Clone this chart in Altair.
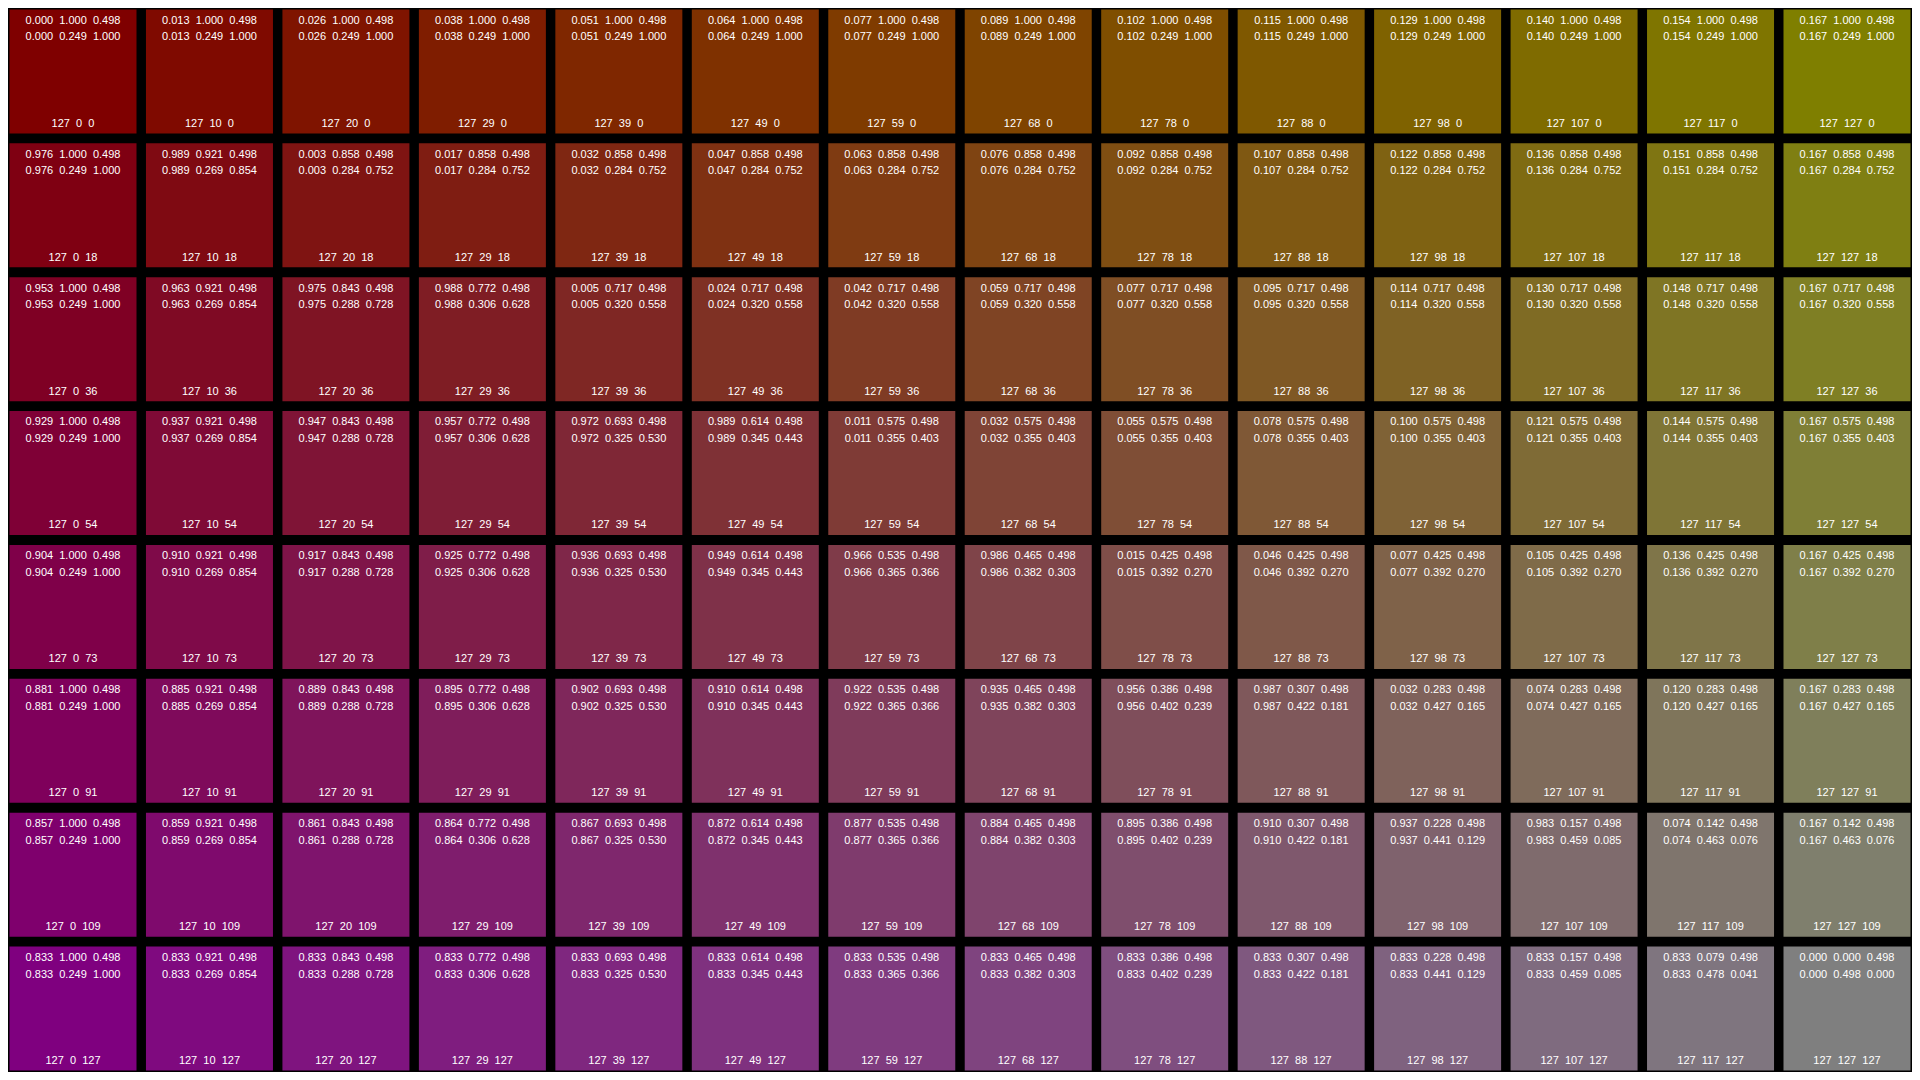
import altair as alt
import pandas as pd

# Green levels (columns) and blue levels (rows); red is always 127
greens = [0, 10, 20, 29, 39, 49, 59, 68, 78, 88, 98, 107, 117, 127]
blues = [0, 18, 36, 54, 73, 91, 109, 127]
red = 127

# Hue shown in each cell (per row)
hue = [
    ["0.000", "0.013", "0.026", "0.038", "0.051", "0.064", "0.077", "0.089", "0.102", "0.115", "0.129", "0.140", "0.154", "0.167"],
    ["0.976", "0.989", "0.003", "0.017", "0.032", "0.047", "0.063", "0.076", "0.092", "0.107", "0.122", "0.136", "0.151", "0.167"],
    ["0.953", "0.963", "0.975", "0.988", "0.005", "0.024", "0.042", "0.059", "0.077", "0.095", "0.114", "0.130", "0.148", "0.167"],
    ["0.929", "0.937", "0.947", "0.957", "0.972", "0.989", "0.011", "0.032", "0.055", "0.078", "0.100", "0.121", "0.144", "0.167"],
    ["0.904", "0.910", "0.917", "0.925", "0.936", "0.949", "0.966", "0.986", "0.015", "0.046", "0.077", "0.105", "0.136", "0.167"],
    ["0.881", "0.885", "0.889", "0.895", "0.902", "0.910", "0.922", "0.935", "0.956", "0.987", "0.032", "0.074", "0.120", "0.167"],
    ["0.857", "0.859", "0.861", "0.864", "0.867", "0.872", "0.877", "0.884", "0.895", "0.910", "0.937", "0.983", "0.074", "0.167"],
    ["0.833", "0.833", "0.833", "0.833", "0.833", "0.833", "0.833", "0.833", "0.833", "0.833", "0.833", "0.833", "0.833", "0.000"],
]

# HSV saturation shown in each cell (value is always 0.498)
sat_v = [
    ["1.000"] * 14,
    ["1.000", "0.921"] + ["0.858"] * 12,
    ["1.000", "0.921", "0.843", "0.772"] + ["0.717"] * 10,
    ["1.000", "0.921", "0.843", "0.772", "0.693", "0.614"] + ["0.575"] * 8,
    ["1.000", "0.921", "0.843", "0.772", "0.693", "0.614", "0.535", "0.465"] + ["0.425"] * 6,
    ["1.000", "0.921", "0.843", "0.772", "0.693", "0.614", "0.535", "0.465", "0.386", "0.307"] + ["0.283"] * 4,
    ["1.000", "0.921", "0.843", "0.772", "0.693", "0.614", "0.535", "0.465", "0.386", "0.307", "0.228", "0.157"] + ["0.142"] * 2,
    ["1.000", "0.921", "0.843", "0.772", "0.693", "0.614", "0.535", "0.465", "0.386", "0.307", "0.228", "0.157", "0.079", "0.000"],
]
val_v = "0.498"

# HLS lightness shown in each cell
light = [
    ["0.249"] * 14,
    ["0.249", "0.269"] + ["0.284"] * 12,
    ["0.249", "0.269", "0.288", "0.306"] + ["0.320"] * 10,
    ["0.249", "0.269", "0.288", "0.306", "0.325", "0.345"] + ["0.355"] * 8,
    ["0.249", "0.269", "0.288", "0.306", "0.325", "0.345", "0.365", "0.382"] + ["0.392"] * 6,
    ["0.249", "0.269", "0.288", "0.306", "0.325", "0.345", "0.365", "0.382", "0.402", "0.422"] + ["0.427"] * 4,
    ["0.249", "0.269", "0.288", "0.306", "0.325", "0.345", "0.365", "0.382", "0.402", "0.422", "0.441", "0.459"] + ["0.463"] * 2,
    ["0.249", "0.269", "0.288", "0.306", "0.325", "0.345", "0.365", "0.382", "0.402", "0.422", "0.441", "0.459", "0.478", "0.498"],
]

# HLS saturation shown in each cell
sat_l = [
    ["1.000"] * 14,
    ["1.000", "0.854"] + ["0.752"] * 12,
    ["1.000", "0.854", "0.728", "0.628"] + ["0.558"] * 10,
    ["1.000", "0.854", "0.728", "0.628", "0.530", "0.443"] + ["0.403"] * 8,
    ["1.000", "0.854", "0.728", "0.628", "0.530", "0.443", "0.366", "0.303"] + ["0.270"] * 6,
    ["1.000", "0.854", "0.728", "0.628", "0.530", "0.443", "0.366", "0.303", "0.239", "0.181"] + ["0.165"] * 4,
    ["1.000", "0.854", "0.728", "0.628", "0.530", "0.443", "0.366", "0.303", "0.239", "0.181", "0.129", "0.085"] + ["0.076"] * 2,
    ["1.000", "0.854", "0.728", "0.628", "0.530", "0.443", "0.366", "0.303", "0.239", "0.181", "0.129", "0.085", "0.041", "0.000"],
]

SP = "\u00a0\u00a0"
rows = []
for r, b in enumerate(blues):
    for c, g in enumerate(greens):
        rows.append({
            "col": c,
            "row": r,
            "fill": "#{:02x}{:02x}{:02x}".format(red, g, b),
            "line1": SP.join([hue[r][c], sat_v[r][c], val_v]),
            "line2": SP.join([hue[r][c], light[r][c], sat_l[r][c]]),
            "rgb": SP.join([str(red), str(g), str(b)]),
        })
df = pd.DataFrame(rows)

W, H = 1904, 1064
xs = alt.X("col:O", scale=alt.Scale(paddingInner=0.0693, paddingOuter=0.011), axis=None)
ys = alt.Y("row:O", scale=alt.Scale(paddingInner=0.0737, paddingOuter=0.011), axis=None)

base = alt.Chart(df)
rects = base.mark_rect().encode(x=xs, y=ys, color=alt.Color("fill:N", scale=None))

txt_kw = dict(color="white", font="Liberation Sans", fontSize=11, align="center", baseline="alphabetic")
t1 = base.mark_text(yOffset=-47.7, **txt_kw).encode(x=xs, y=ys, text="line1:N")
t2 = base.mark_text(yOffset=-31, **txt_kw).encode(x=xs, y=ys, text="line2:N")
t3 = base.mark_text(yOffset=55.3, **txt_kw).encode(x=xs, y=ys, text="rgb:N")

chart = alt.layer(rects, t1, t2, t3).properties(
    width=W, height=H, background="black", padding=0,
    autosize=alt.AutoSizeParams(type="none"),
).configure_view(stroke=None)

chart.save("out.html", embed_options={"renderer": "svg", "actions": False})
